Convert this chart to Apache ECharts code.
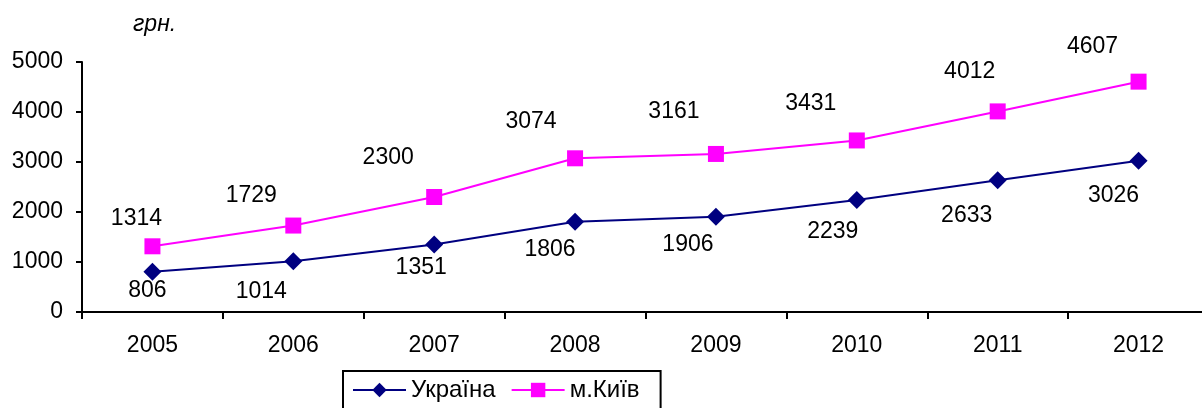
<!DOCTYPE html>
<html><head><meta charset="utf-8">
<script src="https://cdn.jsdelivr.net/npm/echarts@6/dist/echarts.min.js"></script>
<style>html,body{margin:0;padding:0;background:#fff}#c{width:1202px;height:408px}</style>
</head><body><div id="c"></div>
<script>
const years = ['2005','2006','2007','2008','2009','2010','2011','2012'];
const ukraine = [806,1014,1351,1806,1906,2239,2633,3026];
const kyiv = [1314,1729,2300,3074,3161,3431,4012,4607];
const yTicks = [0,1000,2000,3000,4000,5000];
const unitLabel = 'грн.';

const ukrOffsets = [[-5,19],[-32,30],[-13,23],[-25,28],[-28,28],[-24,32],[-31,35],[-25,35]];
const kyivOffsets = [[-16,-28],[-42,-30],[-46,-39],[-44,-37],[-42,-42],[-46,-37],[-28,-40],[-46,-35]];
const font = 'Liberation Sans, Arial, sans-serif';
const fs = 23;

function items(vals, offs){
  return vals.map((v,i)=>({value:v,label:{offset:offs[i]}}));
}
const chart = echarts.init(document.getElementById('c'));
chart.setOption({
  animation:false,
  backgroundColor:'#fff',
  grid:{left:82,top:62,height:250,right:-7,outerBoundsMode:'none',containLabel:false},
  graphic:[{type:'text',left:133,top:13,style:{text:unitLabel,font:'italic 23px '+font,fill:'#000'}}],
  xAxis:{type:'category',data:years,boundaryGap:true,
    axisLine:{lineStyle:{color:'#000',width:2}},
    axisTick:{show:true,length:7,inside:false,lineStyle:{color:'#000',width:2}},
    axisLabel:{color:'#000',fontSize:fs,fontFamily:font,margin:22},
    splitLine:{show:false}},
  yAxis:{type:'value',min:0,max:5000,interval:1000,
    axisLine:{show:true,lineStyle:{color:'#000',width:2}},
    axisTick:{show:true,length:6,lineStyle:{color:'#000',width:2}},
    axisLabel:{color:'#000',fontSize:fs,fontFamily:font,margin:19,
      formatter:v=>yTicks.includes(v)?String(v):''},
    splitLine:{show:false}},
  legend:{left:343,top:371,itemWidth:53,itemHeight:18,itemGap:15,
    padding:[7,21,8,9],borderColor:'#000',borderWidth:2,
    textStyle:{color:'#000',fontSize:24,fontFamily:font},
    data:['Україна','м.Київ']},
  series:[
    {name:'Україна',type:'line',data:items(ukraine,ukrOffsets),
      symbol:'diamond',symbolSize:18,
      lineStyle:{color:'#000080',width:2},itemStyle:{color:'#000080'},
      label:{show:true,position:'inside',color:'#000',fontSize:fs,fontFamily:font}},
    {name:'м.Київ',type:'line',data:items(kyiv,kyivOffsets),
      symbol:'rect',symbolSize:16,
      lineStyle:{color:'#FF00FF',width:2},itemStyle:{color:'#FF00FF'},
      label:{show:true,position:'inside',color:'#000',fontSize:fs,fontFamily:font}}
  ]
});
</script></body></html>
